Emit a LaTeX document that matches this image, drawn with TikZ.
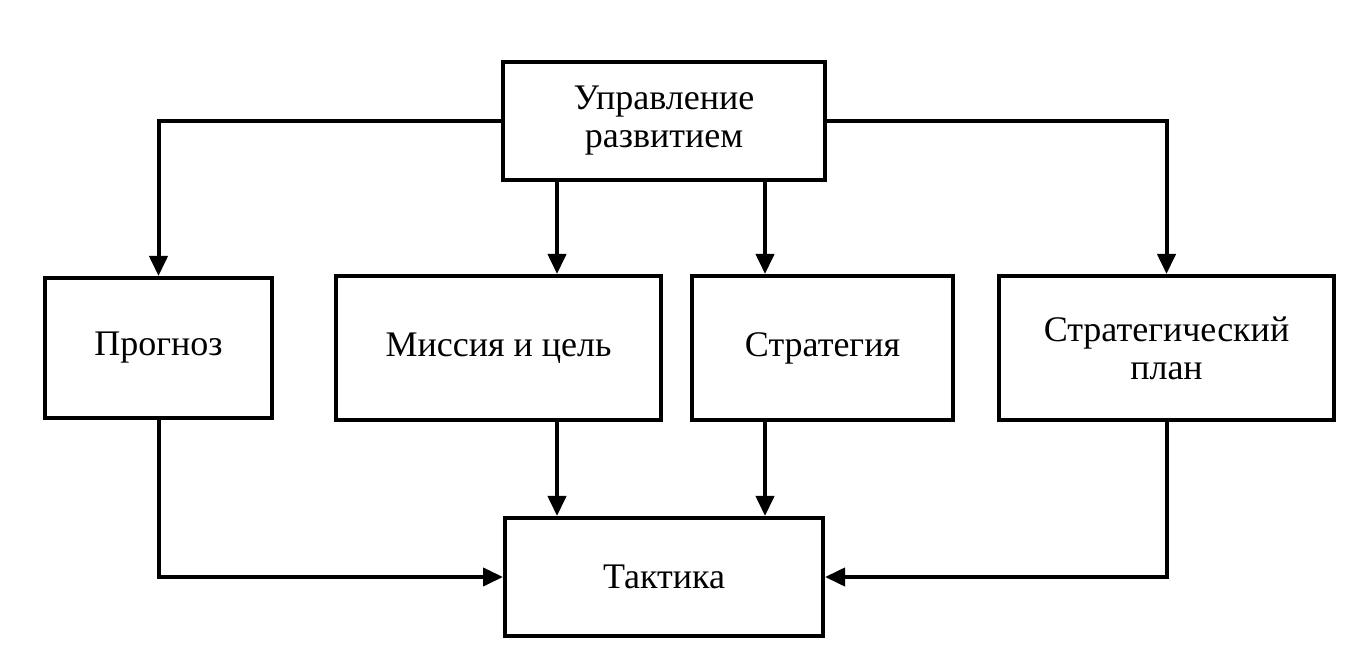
\documentclass[tikz,border=0pt]{standalone}
\usepackage{fontspec}
\setmainfont{Liberation Serif}
\usetikzlibrary{arrows.meta,positioning}

\tikzset{
  box/.style={draw, line width=2pt, minimum height=72pt, align=center,
    inner sep=0pt, font=\fontsize{18}{19}\selectfont},
  arr/.style={line width=2pt, -{Triangle[length=10pt,width=9pt]}}
}

\begin{document}
\begin{tikzpicture}
  \useasboundingbox (0,0) rectangle (684.5pt,-328pt);

  \node[box, minimum width=161pt, minimum height=59pt] (manage) at (332pt,-60.5pt) {Управление\\развитием};
  \node[box, minimum width=113.5pt, minimum height=70pt] (forecast) at (79.25pt,-174pt) {Прогноз};
  \node[box, minimum width=162.5pt] (mission)  [right=30pt of forecast]  {Миссия и цель};
  \node[box, minimum width=130.5pt] (strategy) [right=13.5pt of mission] {Стратегия};
  \node[box, minimum width=167.5pt] (plan)     [right=21pt of strategy]  {Стратегический\\план};
  \node[box, minimum width=159pt, minimum height=59pt] (tactics) [below=167pt of manage] {Тактика};

  \coordinate (left lane)  at ([xshift=-53.5pt]manage.south);
  \coordinate (right lane) at ([xshift=50.5pt]manage.south);

  \draw[arr] (manage.west) -| (forecast.north);
  \draw[arr] (manage.east) -| (plan.north);
  \draw[arr] (left lane) -- (left lane |- mission.north);
  \draw[arr] (right lane) -- (right lane |- strategy.north);
  \draw[arr] (left lane |- mission.south) -- (left lane |- tactics.north);
  \draw[arr] (right lane |- strategy.south) -- (right lane |- tactics.north);
  \draw[arr] (forecast.south) |- (tactics.west);
  \draw[arr] (plan.south) |- (tactics.east);
\end{tikzpicture}
\end{document}
